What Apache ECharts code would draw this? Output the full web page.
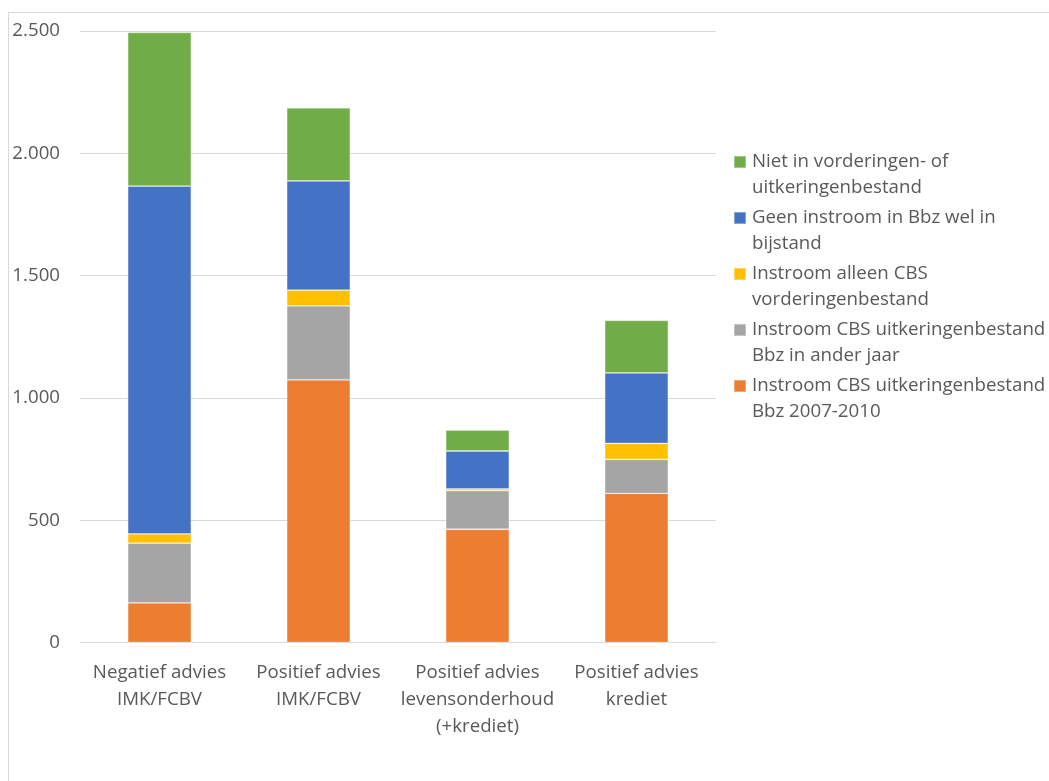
<!DOCTYPE html>
<html>
<head>
<meta charset="utf-8">
<script src="https://cdn.jsdelivr.net/npm/echarts@6/dist/echarts.min.js"></script>
<style>
html,body{margin:0;padding:0;background:#fff;}
#frame{position:absolute;left:8px;top:12px;width:1200px;height:900px;border:1px solid #d9d9d9;box-sizing:border-box;}
#chart{position:absolute;left:0;top:0;width:1049px;height:781px;}
</style>
</head>
<body>
<div id="frame"></div>
<div id="chart"></div>
<script>
const categories = ['Negatief advies\nIMK/FCBV', 'Positief advies\nIMK/FCBV', 'Positief advies\nlevensonderhoud\n(+krediet)', 'Positief advies\nkrediet'];
const seriesNames = [
  'Instroom CBS uitkeringenbestand\nBbz 2007-2010',
  'Instroom CBS uitkeringenbestand\nBbz in ander jaar',
  'Instroom alleen CBS\nvorderingenbestand',
  'Geen instroom in Bbz wel in\nbijstand',
  'Niet in vorderingen- of\nuitkeringenbestand'
];
const bbz20072010 = [162, 1074, 463, 610];
const bbzAnderJaar = [244, 302, 158, 139];
const alleenVordering = [38, 65, 7, 65];
const geenBbzWelBijstand = [1422, 446, 155, 288];
const nietInBestand = [628, 299, 85, 215];
const yTicks = [0, 500, 1000, 1500, 2000, 2500];
const colors = ['#ED7D31', '#A5A5A5', '#FFC000', '#4472C4', '#70AD47'];
const values = [bbz20072010, bbzAnderJaar, alleenVordering, geenBbzWelBijstand, nietInBestand];

const fmt = v => v === 0 ? '0' : String(v).replace(/\B(?=(\d{3})+(?!\d))/g, '.');
const font = '"Open Sans", Lato, sans-serif';
const fs = 18.7;
const chart = echarts.init(document.getElementById('chart'), null, {renderer: 'canvas'});
const legendIcon = 'path://M0,0H12V12H0Z M0,38H12';
chart.setOption({
  animation: false,
  grid: {left: 80, right: 333, top: 31, bottom: 138.5, containLabel: false},
  legend: {
    orient: 'vertical',
    left: 728,
    top: 144,
    itemWidth: 12,
    itemHeight: 38,
    itemGap: 4,
    icon: legendIcon,
    data: seriesNames.slice().reverse(),
    textStyle: {fontFamily: font, fontSize: fs, color: '#595959', lineHeight: 26, padding: [0, 0, 0, 1]},
    selectedMode: false
  },
  xAxis: {
    type: 'category',
    data: categories,
    axisTick: {show: false},
    axisLine: {lineStyle: {color: '#d9d9d9', width: 1}},
    axisLabel: {fontFamily: font, fontSize: fs, color: '#595959', lineHeight: 27, margin: 17, interval: 0}
  },
  yAxis: {
    type: 'value',
    min: yTicks[0],
    max: yTicks[yTicks.length - 1],
    interval: 500,
    axisLine: {show: false},
    axisTick: {show: false},
    splitLine: {lineStyle: {color: '#d9d9d9', width: 1}},
    axisLabel: {fontFamily: font, fontSize: fs, color: '#595959', margin: 20, formatter: fmt}
  },
  series: seriesNames.map((name, i) => ({
    name: name,
    type: 'bar',
    stack: 'total',
    data: values[i],
    barWidth: '40%',
    itemStyle: {color: colors[i], borderColor: 'rgba(255,255,255,0.35)', borderWidth: 0.8},
    emphasis: {disabled: true}
  }))
});
</script>
</body>
</html>
